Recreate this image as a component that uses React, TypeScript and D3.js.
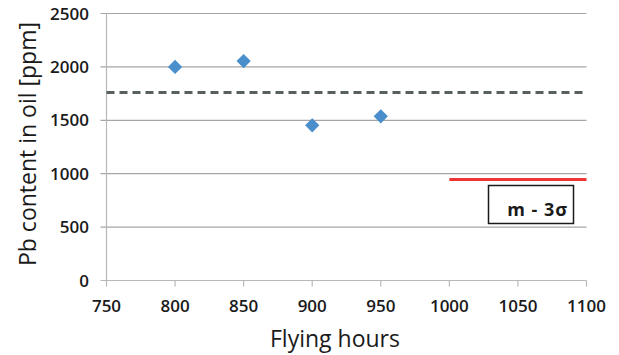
import React from "react";
import * as d3 from "d3";

const hours = [800, 850, 900, 950];
const pbValues = [2000, 2055, 1453, 1537];
const meanLevel = 1760;
const limitStart = 1000;
const limitEnd = 1100;
const limitLevel = 945;
const xTicks = [750, 800, 850, 900, 950, 1000, 1050, 1100];
const yTicks = [0, 500, 1000, 1500, 2000, 2500];
const limitLabel = "m - 3σ";
const xTitle = "Flying hours";
const yTitle = "Pb content in oil [ppm]";

const W = 619;
const H = 355;
const font = "'Open Sans', 'Noto Sans', sans-serif";

export default function App() {
  const x = d3.scaleLinear().domain([750, 1100]).range([106.5, 586.5]);
  const y = d3.scaleLinear().domain([0, 2500]).range([280.5, 13.5]);
  const diamond = d3.symbol().type(d3.symbolDiamond2).size(130)();

  return (
    <svg width={W} height={H} style={{ position: "absolute", left: 0, top: 0 }}>
      <rect width={W} height={H} fill="#fff" />
      {yTicks.map((t) => (
        <g key={t}>
          <line x1={x(750) - 6} x2={x(1100)} y1={y(t)} y2={y(t)} stroke={t === 0 ? "#b8b8b8" : "#a6a6a6"} strokeWidth={1.2} />
          <text x={89} y={y(t)} dy="0.36em" textAnchor="end" fontFamily={font} fontSize={17} fontWeight={600} fill="#1a1a1a">{t}</text>
        </g>
      ))}
      <line x1={x(750)} x2={x(750)} y1={y(2500)} y2={y(0)} stroke="#b8b8b8" strokeWidth={1.2} />
      {xTicks.map((t) => (
        <g key={t}>
          <line x1={x(t)} x2={x(t)} y1={y(0)} y2={y(0) + 6} stroke="#b8b8b8" strokeWidth={1.2} />
          <text x={x(t)} y={306} dy="0.36em" textAnchor="middle" fontFamily={font} fontSize={17} fontWeight={600} fill="#1a1a1a">{t}</text>
        </g>
      ))}
      <line x1={x(750)} x2={x(1100)} y1={y(meanLevel)} y2={y(meanLevel)} stroke="#596060" strokeWidth={3} strokeDasharray="8,5" />
      <line x1={x(limitStart)} x2={x(limitEnd)} y1={y(limitLevel)} y2={y(limitLevel)} stroke="#ee3434" strokeWidth={3} />
      {hours.map((h, i) => (
        <path key={h} d={diamond as string} transform={`translate(${x(h)},${y(pbValues[i])})`} fill="#4a8fcb" />
      ))}
      <rect x={488.5} y={185.5} width={85} height={38} fill="#fff" stroke="#1a1a1a" strokeWidth={1.5} />
      <text x={568} y={216} textAnchor="end" fontFamily={font} fontSize={18} fontWeight="bold" letterSpacing={1} fill="#1a1a1a">{limitLabel}</text>
      <text x={335} y={347} textAnchor="middle" fontFamily={font} fontSize={23} fill="#1a1a1a">{xTitle}</text>
      <text transform={`translate(28,144) rotate(-90)`} dy="0.35em" textAnchor="middle" fontFamily={font} fontSize={23} fill="#1a1a1a">{yTitle}</text>
    </svg>
  );
}
